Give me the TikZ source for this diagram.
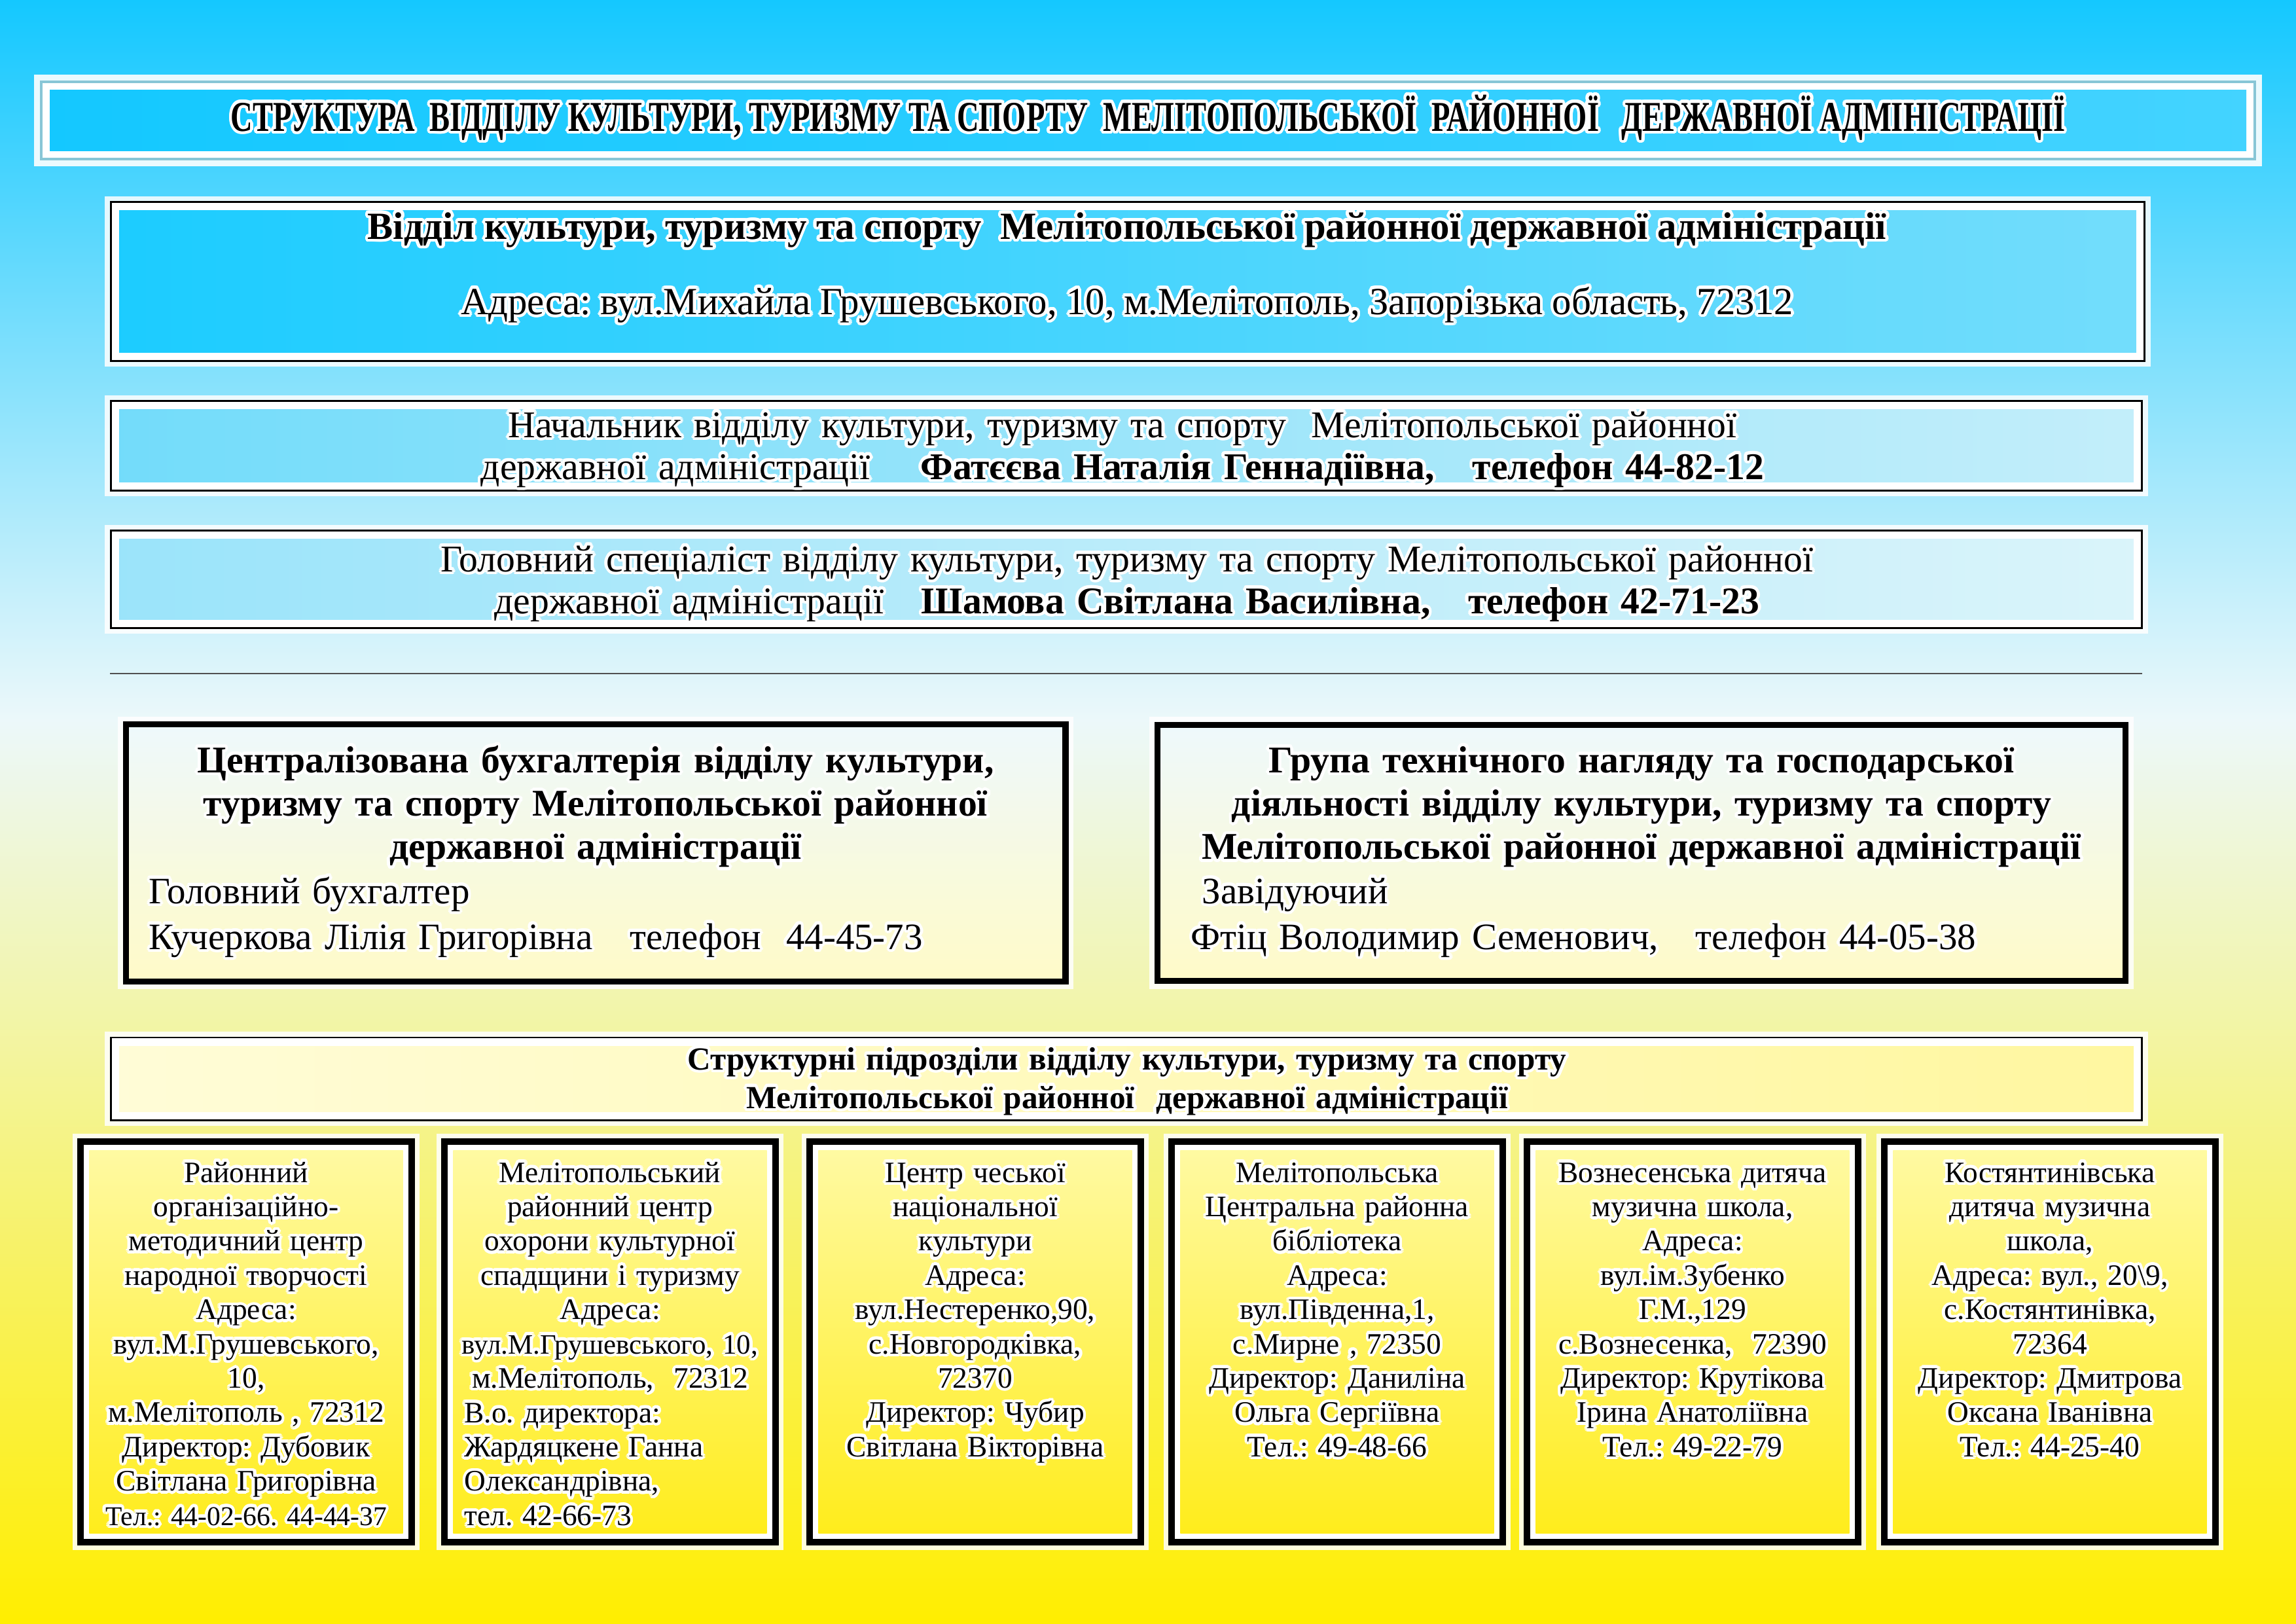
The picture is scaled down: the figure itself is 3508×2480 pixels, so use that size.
\documentclass[tikz,border=0pt]{standalone}
\usepackage{fontspec}
\usepackage[copies]{contour}
\setmainfont{Liberation Serif}
\newfontfamily\titlefont{Liberation Serif}[FakeStretch=0.715]
\frenchspacing
\contourlength{1.3pt}
\newcommand{\halo}[1]{\contour{white}{#1}}

\definecolor{skytop}{RGB}{20,200,255}
\definecolor{skymid}{RGB}{80,211,253}
\definecolor{palesky}{RGB}{236,248,250}
\definecolor{sunbot}{RGB}{255,238,0}
\definecolor{framegray}{RGB}{136,198,214}
\definecolor{rulegray}{RGB}{80,80,80}
\definecolor{deptleft}{RGB}{28,204,255}
\definecolor{deptright}{RGB}{115,221,252}
\definecolor{chiefleft}{RGB}{115,220,250}
\definecolor{chiefright}{RGB}{195,238,250}
\definecolor{specleft}{RGB}{155,228,250}
\definecolor{specright}{RGB}{218,244,250}
\definecolor{boxtop}{RGB}{238,249,252}
\definecolor{boxbot}{RGB}{255,250,200}
\definecolor{structleft}{RGB}{255,252,215}
\definecolor{structright}{RGB}{255,247,160}
\definecolor{unittop}{RGB}{255,250,165}
\definecolor{unitbot}{RGB}{255,236,25}

\begin{document}
\begin{tikzpicture}[x=0.01cm, y=-0.01cm,
    txt/.style={inner sep=0pt, anchor=base},
    rim/.style={path picture={\shade[#1] ([shift={(0.13cm,-0.13cm)}]path picture bounding box.north west) rectangle ([shift={(-0.13cm,0.13cm)}]path picture bounding box.south east);}},
    infobox/.style={draw=black, line width=0.85pt, fill=white, inner sep=0pt,
        preaction={draw=white, line width=5pt, opacity=0.85}},
    groupbox/.style={draw=black, line width=2.6pt, inner sep=0pt, top color=boxtop, bottom color=boxbot,
        preaction={draw=white, line width=7pt, opacity=0.85}},
    unitbox/.style={draw=black, line width=2.85pt, fill=white, inner sep=0pt,
        minimum width=5.05cm, minimum height=6.11cm, rim={top color=unittop, bottom color=unitbot},
        preaction={draw=white, line width=7pt, opacity=0.85}},
    unittext/.style={txt, text width=5.8cm, align=center, font=\fontsize{12.9}{14.9}\selectfont}
]

% Background
\useasboundingbox (0,0) rectangle (3508,2480);
\shade[top color=skytop, middle color=skymid, bottom color=palesky] (0,0) rectangle (3508,1100);
\shade[top color=palesky, bottom color=sunbot] (0,1100) rectangle (3508,2480);

% Title
\node[draw=framegray, line width=1.1pt, fill=white, inner sep=0pt, minimum width=33.80cm, minimum height=1.18cm,
    rim={left color=skytop, right color=skytop!80!white},
    preaction={draw=white, line width=6pt, opacity=0.9}] (titlebox) at (1754,184) {};
\node[txt, font=\titlefont\fontsize{18.5}{22}\selectfont\bfseries] (titletext) at (1754,200)
    {\halo{СТРУКТУРА~ ВІДДІЛУ КУЛЬТУРИ, ТУРИЗМУ ТА СПОРТУ~ МЕЛІТОПОЛЬСЬКОЇ~ РАЙОННОЇ~~ ДЕРЖАВНОЇ АДМІНІСТРАЦІЇ}};

% Department
\node[infobox, rim={left color=deptleft, right color=deptright}, minimum width=31.06cm, minimum height=2.43cm] (dept) at (1723,430) {};
\node[txt, font=\fontsize{16.7}{19}\selectfont\bfseries] (depttitle) at (1722,365)
    {\halo{Відділ культури, туризму та спорту~ Мелітопольської районної державної адміністрації}};
\node[txt, font=\fontsize{16.7}{20}\selectfont] (deptaddr) at (1722,480)
    {\halo{Адреса: вул.Михайла Грушевського, 10, м.Мелітополь, Запорізька область, 72312}};

% Chief and specialist
\node[infobox, rim={left color=chiefleft, right color=chiefright}, minimum width=31.02cm, minimum height=1.36cm] (chief) at (1721,681) {};
\node[txt, text width=31cm, align=center, font=\fontsize{16.4}{18.2}\selectfont] (chieftext) at (1715,668)
    {\halo{Начальник відділу культури, туризму та спорту~ Мелітопольської районної}\\
     \halo{державної адміністрації\quad\ \textbf{Фатєєва Наталія Геннадіївна,\quad телефон 44-82-12}}};

\node[infobox, rim={left color=specleft, right color=specright}, minimum width=31.02cm, minimum height=1.49cm] (spec) at (1721,885) {};
\node[txt, text width=31cm, align=center, font=\fontsize{16.4}{18.2}\selectfont] (spectext) at (1722,873)
    {\halo{Головний спеціаліст відділу культури, туризму та спорту Мелітопольської районної}\\
     \halo{державної адміністрації\quad\textbf{Шамова Світлана Василівна,\quad телефон 42-71-23}}};

\coordinate (ruleleft) at (168,1029);
\coordinate (ruleright) at (3273,1029);
\draw[rulegray, line width=0.6pt] (ruleleft) -- (ruleright);

% Accounting and technical group
\node[groupbox, minimum width=14.35cm, minimum height=3.92cm] (buh) at (910,1303) {};
\node[txt, text width=14.2cm, align=center, font=\fontsize{16.4}{18.9}\selectfont\bfseries] (buhtitle) at (910,1180)
    {\halo{Централізована бухгалтерія відділу культури,}\\\halo{туризму та спорту Мелітопольської районної}\\\halo{державної адміністрації}};
\node[txt, anchor=base west, text width=13.5cm, align=left, font=\fontsize{16.2}{19.9}\selectfont] (buhhead) at (227,1380)
    {\halo{Головний бухгалтер}\\\halo{Кучеркова Лілія Григорівна\quad телефон~ 44-45-73}};

\node[groupbox, minimum width=14.78cm, minimum height=3.91cm] (tech) at (2508,1303) {};
\node[txt, text width=14.7cm, align=center, font=\fontsize{16.4}{18.9}\selectfont\bfseries] (techtitle) at (2508,1180)
    {\halo{Група технічного нагляду та господарської}\\\halo{діяльності відділу культури, туризму та спорту}\\\halo{Мелітопольської районної державної адміністрації}};
\node[txt, anchor=base west, text width=14cm, align=left, font=\fontsize{16.2}{19.9}\selectfont] (techhead) at (1819,1380)
    {\hspace*{0.3em}\halo{Завідуючий}\\\halo{Фтіц Володимир Семенович,\quad телефон 44-05-38}};

% Structural units
\node[infobox, rim={left color=structleft, right color=structright}, minimum width=31.02cm, minimum height=1.26cm] (struct) at (1721,1648) {};
\node[txt, text width=31cm, align=center, font=\fontsize{14}{16.8}\selectfont\bfseries] (structtext) at (1722,1634)
    {\halo{Структурні підрозділи відділу культури, туризму та спорту}\\\halo{Мелітопольської районної~ державної адміністрації}};

\node[unitbox] (unit1) at (376,2050) {};
\node[unittext] (unit1text) at (376,1806)
    {\halo{Районний}\\\halo{організаційно-}\\\halo{методичний центр}\\\halo{народної творчості}\\\halo{Адреса:}\\\halo{вул.М.Грушевського,}\\\halo{10,}\\\halo{м.Мелітополь , 72312}\\\halo{Директор: Дубовик}\\\halo{Світлана Григорівна}\\{\fontsize{11.8}{14.9}\selectfont\halo{Тел.: 44-02-66. 44-44-37}}};

\node[unitbox] (unit2) at (932,2050) {};
\node[unittext] (unit2text) at (932,1806)
    {\halo{Мелітопольський}\\\halo{районний центр}\\\halo{охорони культурної}\\\halo{спадщини і туризму}\\\halo{Адреса:}\\{\fontsize{12.2}{14.9}\selectfont\halo{вул.М.Грушевського, 10,}}\\\halo{м.Мелітополь,~ 72312}};
\node[unittext, anchor=base west, text width=4.8cm, align=left] (unit2head) at (709,2173)
    {\halo{В.о. директора:}\\\halo{Жардяцкене Ганна}\\\halo{Олександрівна,}\\\halo{тел. 42-66-73}};

\node[unitbox] (unit3) at (1490,2050) {};
\node[unittext] (unit3text) at (1490,1806)
    {\halo{Центр чеської}\\\halo{національної}\\\halo{культури}\\\halo{Адреса:}\\\halo{вул.Нестеренко,90,}\\\halo{с.Новгородківка,}\\\halo{72370}\\\halo{Директор: Чубир}\\\halo{Світлана Вікторівна}};

\node[unitbox] (unit4) at (2043,2050) {};
\node[unittext] (unit4text) at (2043,1806)
    {\halo{Мелітопольська}\\\halo{Центральна районна}\\\halo{бібліотека}\\\halo{Адреса:}\\\halo{вул.Південна,1,}\\\halo{с.Мирне , 72350}\\\halo{Директор: Даниліна}\\\halo{Ольга Сергіївна}\\\halo{Тел.: 49-48-66}};

\node[unitbox] (unit5) at (2586,2050) {};
\node[unittext] (unit5text) at (2586,1806)
    {\halo{Вознесенська дитяча}\\\halo{музична школа,}\\\halo{Адреса:}\\\halo{вул.ім.Зубенко}\\\halo{Г.М.,129}\\\halo{с.Вознесенка,~ 72390}\\\halo{Директор: Крутікова}\\\halo{Ірина Анатоліївна}\\\halo{Тел.: 49-22-79}};

\node[unitbox] (unit6) at (3132,2050) {};
\node[unittext] (unit6text) at (3132,1806)
    {\halo{Костянтинівська}\\\halo{дитяча музична}\\\halo{школа,}\\\halo{Адреса: вул., 20\textbackslash 9,}\\\halo{с.Костянтинівка,}\\\halo{72364}\\\halo{Директор: Дмитрова}\\\halo{Оксана Іванівна}\\\halo{Тел.: 44-25-40}};

\end{tikzpicture}
\end{document}
